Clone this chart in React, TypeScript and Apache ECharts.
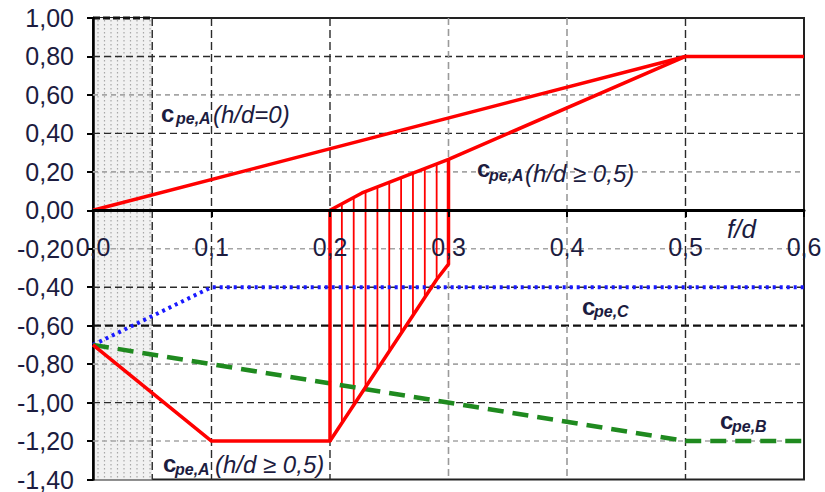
import React, { useEffect, useRef } from "react";
import * as echarts from "echarts";

// ---- axes ----
const xMin = 0;
const xMax = 0.6;
const xStep = 0.1;
const yMin = -1.4;
const yMax = 1.0;
const yStep = 0.2;

// ---- curves (x = f/d, y = c_pe) ----
const cpeA0: number[][] = [
  [0, 0],
  [0.5, 0.8],
  [0.6, 0.8],
];
const cpeA05Main: number[][] = [
  [0, -0.7],
  [0.1, -1.2],
  [0.2, -1.2],
  [0.2, 0],
  [0.227, 0.09],
  [0.3, 0.265],
  [0.5, 0.8],
];
const cpeA05Return: number[][] = [
  [0.3, 0.265],
  [0.3, -0.28],
  [0.29, -0.36],
  [0.2, -1.2],
];
const cpeC: number[][] = [
  [0, -0.7],
  [0.1, -0.4],
  [0.6, -0.4],
];
const cpeB: number[][] = [
  [0, -0.7],
  [0.5, -1.2],
  [0.6, -1.2],
];

// ---- hatch between the two h/d>=0.5 branches ----
const hatchX = [0.21, 0.22, 0.23, 0.24, 0.25, 0.26, 0.27, 0.28, 0.29];
const hatchTop = [0.033, 0.067, 0.097, 0.121, 0.145, 0.169, 0.193, 0.217, 0.241];
const hatchBottom = [-1.107, -1.013, -0.92, -0.827, -0.733, -0.64, -0.547, -0.453, -0.36];

// ---- shaded zone ----
const zoneX = [0, 0.05];

// ---- grid lines ----
const yGridDark = [0.8, 0.4, -0.4, -1.0];
const yGridHeavy = [-0.6];
const yGridLight = [0.6, 0.2, -0.2, -0.8, -1.2];
const xGridDark = [0.05, 0.1, 0.2, 0.5];
const xGridLight = [0.3, 0.4];

const FONT = "'Liberation Sans', Arial, sans-serif";
const TXT = "#1c1c40";
const RED = "#ff0000";

const GRID_TOP = 18;
const GRID_BOTTOM = 12;
const CHART_H = 492;
const GRID_H = CHART_H - GRID_TOP - GRID_BOTTOM;
// x axis sits on y = 0: shift it up from the grid bottom
const X_AXIS_OFFSET = -(GRID_H * (0 - yMin)) / (yMax - yMin);

function hLines(values: number[], color: string, width: number, dash: number[], z: number) {
  return {
    type: "custom",
    silent: true,
    z,
    clip: false,
    data: values.map((v) => [xMin, v]),
    encode: { x: 0, y: 1 },
    renderItem: (params: any, api: any) => {
      const cs = params.coordSys;
      const y = api.coord([xMin, api.value(1)])[1];
      return {
        type: "line",
        shape: { x1: cs.x, y1: y, x2: cs.x + cs.width, y2: y },
        style: { stroke: color, lineWidth: width, lineDash: dash },
      };
    },
  };
}

function vLines(values: number[], color: string, width: number, dash: number[], z: number) {
  return {
    type: "custom",
    silent: true,
    z,
    clip: false,
    data: values.map((v) => [v, yMin]),
    encode: { x: 0, y: 1 },
    renderItem: (params: any, api: any) => {
      const cs = params.coordSys;
      const x = api.coord([api.value(0), yMin])[0];
      return {
        type: "line",
        shape: { x1: x, y1: cs.y, x2: x, y2: cs.y + cs.height },
        style: { stroke: color, lineWidth: width, lineDash: dash },
      };
    },
  };
}

function lineSeries(name: string, data: number[][], color: string, width: number, type: any) {
  return {
    name,
    type: "line",
    data,
    symbol: "none",
    showSymbol: false,
    z: 6,
    silent: true,
    lineStyle: { color, width, type, cap: "butt", join: "round" },
  };
}

function txt(x: number, y: number, text: string, size: number, style: string, weight: string) {
  return {
    type: "text",
    x,
    y,
    z: 20,
    silent: true,
    style: {
      text,
      fontSize: size,
      fontStyle: style,
      fontWeight: weight,
      fontFamily: FONT,
      fill: TXT,
      align: "left",
      verticalAlign: "middle",
    },
  };
}

export default function App() {
  const ref = useRef<HTMLDivElement>(null);

  useEffect(() => {
    document.body.style.margin = "0";
    const chart = echarts.init(ref.current!, undefined, { renderer: "svg" });

    const option: any = {
      animation: false,
      backgroundColor: "#ffffff",
      grid: {
        left: 93,
        right: 21,
        top: GRID_TOP,
        bottom: GRID_BOTTOM,
        show: true,
        borderColor: "#222",
        borderWidth: 2,
        backgroundColor: "transparent",
      },
      xAxis: {
        type: "value",
        min: xMin,
        max: xMax,
        interval: xStep,
        position: "bottom",
        offset: X_AXIS_OFFSET,
        axisLine: { onZero: false, lineStyle: { color: "#000", width: 3 } },
        axisTick: { show: true, length: 7, lineStyle: { color: "#000", width: 2 } },
        axisLabel: {
          showMinLabel: true,
          showMaxLabel: true,
          fontSize: 25,
          fontFamily: FONT,
          color: TXT,
          margin: 24,
          formatter: (v: number) => v.toFixed(1).replace(".", ","),
        },
        splitLine: { show: false },
        z: 8,
      },
      yAxis: {
        type: "value",
        min: yMin,
        max: yMax,
        interval: yStep,
        axisLine: { show: true, onZero: false, lineStyle: { color: "#000", width: 2.5 } },
        axisTick: { show: true, length: 6, lineStyle: { color: "#000", width: 2 } },
        axisLabel: {
          fontSize: 25,
          fontFamily: FONT,
          color: TXT,
          margin: 19,
          formatter: (v: number) => v.toFixed(2).replace(".", ","),
        },
        splitLine: { show: false },
      },
      series: [
        {
          type: "custom",
          silent: true,
          z: 0,
          clip: false,
          data: [[zoneX[0], yMin, zoneX[1], yMax]],
          encode: { x: [0, 2], y: [1, 3] },
          renderItem: (params: any, api: any) => {
            const p0 = api.coord([api.value(0), api.value(3)]);
            const p1 = api.coord([api.value(2), api.value(1)]);
            const children: any[] = [
              {
                type: "rect",
                shape: { x: p0[0], y: p0[1], width: p1[0] - p0[0], height: p1[1] - p0[1] },
                style: { fill: "#f1f1f1" },
              },
            ];
            for (let x = p0[0] + 5; x < p1[0] - 2; x += 6.5) {
              children.push({
                type: "line",
                shape: { x1: x, y1: p0[1] + 2, x2: x, y2: p1[1] },
                style: { stroke: "#a8a8a8", lineWidth: 1.2, lineDash: [1.5, 2.5] },
              });
            }
            children.push({
              type: "line",
              shape: { x1: p0[0], y1: p0[1], x2: p1[0], y2: p0[1] },
              style: { stroke: "#111", lineWidth: 3, lineDash: [7, 3] },
            });
            return { type: "group", children };
          },
        },
        hLines(yGridLight, "#a5a5a5", 1.6, [5, 4], 1),
        hLines(yGridDark, "#2a2a2a", 1.4, [7, 4], 1),
        hLines(yGridHeavy, "#111", 2.4, [8, 4], 1),
        vLines(xGridLight, "#9a9a9a", 1.6, [7, 4], 1),
        vLines(xGridDark, "#2a2a2a", 1.4, [8, 4], 1),
        {
          type: "custom",
          silent: true,
          z: 4,
          data: hatchX.map((x, i) => [x, hatchTop[i], hatchBottom[i]]),
          encode: { x: 0, y: [1, 2] },
          renderItem: (params: any, api: any) => {
            const a = api.coord([api.value(0), api.value(1)]);
            const b = api.coord([api.value(0), api.value(2)]);
            return {
              type: "line",
              shape: { x1: a[0], y1: a[1], x2: b[0], y2: b[1] },
              style: { stroke: RED, lineWidth: 1.8 },
            };
          },
        },
        lineSeries("cpe,C", cpeC, "#1a1aff", 4, [3, 4]),
        lineSeries("cpe,B", cpeB, "#1f8a1f", 4.5, [16, 9]),
        lineSeries("cpe,A h/d=0", cpeA0, RED, 3.5, "solid"),
        lineSeries("cpe,A h/d>=0,5", cpeA05Main, RED, 3.5, "solid"),
        lineSeries("cpe,A h/d>=0,5 return", cpeA05Return, RED, 3.5, "solid"),
      ],
      graphic: [
        // c_pe,A (h/d=0)
        txt(161, 113, "c", 24, "normal", "bold"),
        txt(176, 118.5, "pe,A", 16, "italic", "bold"),
        txt(213, 114, "(h/d=0)", 24, "italic", "normal"),
        // c_pe,A (h/d>=0,5) upper
        txt(477, 168, "c", 24, "normal", "bold"),
        txt(489, 175.5, "pe,A", 16, "italic", "bold"),
        txt(525, 173, "(h/d ≥ 0,5)", 24, "italic", "normal"),
        // c_pe,C
        txt(582, 306, "c", 24, "normal", "bold"),
        txt(594, 311.5, "pe,C", 16, "italic", "bold"),
        // c_pe,B
        txt(720, 420, "c", 24, "normal", "bold"),
        txt(732, 426, "pe,B", 16, "italic", "bold"),
        // c_pe,A (h/d>=0,5) lower
        txt(163, 463, "c", 24, "normal", "bold"),
        txt(175, 469.5, "pe,A", 16, "italic", "bold"),
        txt(215, 464, "(h/d ≥ 0,5)", 24, "italic", "normal"),
        // axis title
        txt(727, 229, "f/d", 26, "italic", "normal"),
      ],
    };

    chart.setOption(option);
    return () => chart.dispose();
  }, []);

  return <div ref={ref} style={{ width: 825, height: 492 }} />;
}
